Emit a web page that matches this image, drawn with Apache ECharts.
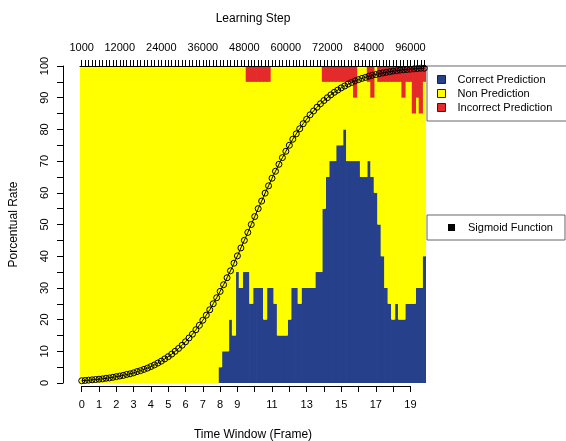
<!DOCTYPE html>
<html><head><meta charset="utf-8">
<script src="https://cdn.jsdelivr.net/npm/echarts@6/dist/echarts.min.js"></script>
<style>html,body{margin:0;padding:0;background:#fff}#c{width:566px;height:441px}</style>
</head><body><div id="c"></div>
<script>
// Learning steps (categories), one bar per 1000 steps
const steps = [];
for (let s = 1000; s <= 100000; s += 1000) steps.push(s);

const topTickLabels = [1000, 12000, 24000, 36000, 48000, 60000, 72000, 84000, 96000];
const frameTickLabels = [0, 1, 2, 3, 4, 5, 6, 7, 8, 9, 11, 13, 15, 17, 19];
const rateTickLabels = [0, 10, 20, 30, 40, 50, 60, 70, 80, 90, 100];

const correctPrediction = [
  0,0,0,0,0,0,0,0,0,0, 0,0,0,0,0,0,0,0,0,0,
  0,0,0,0,0,0,0,0,0,0, 0,0,0,0,0,0,0,0,0,0,
  5,10,10,20,15,35,30,35,35,25,
  30,30,30,20,30,30,25,15,15,15,
  20,30,30,25,30,30,30,30,35,35,
  55,65,70,70,75,75,80,70,70,70,
  70,65,65,70,65,60,50,40,30,25,
  20,25,20,20,25,25,25,30,30,40
];
const nonPrediction = [
  100,100,100,100,100,100,100,100,100,100, 100,100,100,100,100,100,100,100,100,100,
  100,100,100,100,100,100,100,100,100,100, 100,100,100,100,100,100,100,100,100,100,
  95,90,90,80,85,65,70,65,60,70,
  65,65,65,75,65,70,75,85,85,85,
  80,70,70,75,70,70,70,70,65,65,
  40,30,25,25,20,20,15,25,25,20,
  30,35,35,25,25,40,45,55,65,70,
  75,70,75,70,70,70,60,60,55,55
];
const incorrectPrediction = [
  0,0,0,0,0,0,0,0,0,0, 0,0,0,0,0,0,0,0,0,0,
  0,0,0,0,0,0,0,0,0,0, 0,0,0,0,0,0,0,0,0,0,
  0,0,0,0,0,0,0,0,5,5,
  5,5,5,5,5,0,0,0,0,0,
  0,0,0,0,0,0,0,0,0,0,
  5,5,5,5,5,5,5,5,5,10,
  0,0,0,5,10,0,5,5,5,5,
  5,5,5,10,5,5,15,10,15,5
];
const sigmoidFunction = [
  0.7,0.8,0.9,1.0,1.1,1.2,1.3,1.5,1.6,1.8,
  2.0,2.2,2.4,2.7,2.9,3.2,3.6,3.9,4.3,4.7,
  5.2,5.7,6.3,6.9,7.6,8.3,9.1,10.0,10.9,11.9,
  13.0,14.2,15.4,16.8,18.2,19.8,21.4,23.1,25.0,26.9,
  28.9,31.0,33.2,35.4,37.8,40.1,42.6,45.0,47.5,50.0,
  52.5,55.0,57.4,59.9,62.2,64.6,66.8,69.0,71.1,73.1,
  75.0,76.9,78.6,80.2,81.8,83.2,84.6,85.8,87.0,88.1,
  89.1,90.0,90.9,91.7,92.4,93.1,93.7,94.3,94.8,95.3,
  95.7,96.1,96.4,96.8,97.1,97.3,97.6,97.8,98.0,98.2,
  98.4,98.5,98.7,98.8,98.9,99.0,99.1,99.2,99.3,99.3
];

const FONT = '"Liberation Sans", Arial, Helvetica, sans-serif';
const BLUE = '#27408B', YELLOW = '#FFFF00', RED = '#E42A2A';

const chart = echarts.init(document.getElementById('c'), null, {renderer: 'canvas'});
const axisBlack = {color: '#000', width: 1};

const option = {
  animation: false,
  backgroundColor: '#fff',
  textStyle: {fontFamily: FONT},
  title: [
    {text: 'Learning Step', left: 253, top: 13, textAlign: 'center', padding: 0,
     textStyle: {fontSize: 12, fontWeight: 'normal', color: '#000', fontFamily: FONT}},
    {text: 'Time Window (Frame)', left: 253, top: 429, textAlign: 'center', padding: 0,
     textStyle: {fontSize: 12, fontWeight: 'normal', color: '#000', fontFamily: FONT}}
  ],
  grid: [
    {left: 80, top: 66, width: 346, height: 317},
    {left: 81.73, top: 66, width: 328.7, height: 317}
  ],
  legend: [
    {
      orient: 'vertical', left: 427, top: 66,
      padding: [7, 20, 7, 10], itemGap: 1,
      itemWidth: 8, itemHeight: 8,
      backgroundColor: '#fff', borderColor: '#666', borderWidth: 1,
      textStyle: {fontSize: 11, color: '#000', fontFamily: FONT, lineHeight: 13, padding: [0, 0, 0, 7]},
      data: [
        {name: 'Correct Prediction', icon: 'rect', itemStyle: {color: BLUE, borderColor: '#222', borderWidth: 1}},
        {name: 'Non Prediction', icon: 'rect', itemStyle: {color: YELLOW, borderColor: '#222', borderWidth: 1}},
        {name: 'Incorrect Prediction', icon: 'rect', itemStyle: {color: RED, borderColor: '#222', borderWidth: 1}}
      ]
    },
    {
      orient: 'vertical', left: 427, top: 215,
      padding: [6, 12, 6, 21],
      itemWidth: 7, itemHeight: 7,
      backgroundColor: '#fff', borderColor: '#666', borderWidth: 1,
      textStyle: {fontSize: 11, color: '#000', fontFamily: FONT, lineHeight: 13, padding: [0, 0, 0, 8]},
      data: [
        {name: 'Sigmoid Function', icon: 'rect', itemStyle: {color: '#000', borderWidth: 0}}
      ]
    }
  ],
  xAxis: [
    {
      type: 'category', gridIndex: 0, position: 'top', data: steps, boundaryGap: true, z: 10,
      axisLine: {show: true, onZero: false, lineStyle: axisBlack},
      axisTick: {show: true, interval: 0, alignWithLabel: true, length: 6, lineStyle: axisBlack},
      axisLabel: {interval: (i, v) => topTickLabels.indexOf(Number(v)) >= 0, margin: 13,
                  fontSize: 11, color: '#000', fontFamily: FONT},
      splitLine: {show: false}
    },
    {
      type: 'value', gridIndex: 1, position: 'bottom', min: 0, max: 19, interval: 1, offset: 3,
      axisLine: {show: true, onZero: false, lineStyle: axisBlack},
      axisTick: {show: true, length: 6, lineStyle: axisBlack},
      axisLabel: {formatter: v => frameTickLabels.indexOf(v) >= 0 ? String(v) : '', margin: 13,
                  fontSize: 11, color: '#000', fontFamily: FONT},
      splitLine: {show: false}
    }
  ],
  yAxis: [
    {
      type: 'value', gridIndex: 0, min: 0, max: 100, interval: 5, offset: 17,
      name: 'Porcentual Rate', nameLocation: 'middle', nameGap: 43,
      nameTextStyle: {fontSize: 12, color: '#000', fontFamily: FONT},
      axisLine: {show: true, onZero: false, lineStyle: axisBlack},
      axisTick: {show: true, length: 6, lineStyle: axisBlack},
      axisLabel: {rotate: 90, margin: 13, fontSize: 11, color: '#000', fontFamily: FONT,
                  formatter: v => rateTickLabels.indexOf(v) >= 0 ? String(v) : ''},
      splitLine: {show: false}
    },
    {type: 'value', gridIndex: 1, min: 0, max: 1, show: false}
  ],
  series: [
    {name: 'Correct Prediction', type: 'bar', stack: 'rate', data: correctPrediction,
     barWidth: 4.2, itemStyle: {color: BLUE}, silent: true},
    {name: 'Non Prediction', type: 'bar', stack: 'rate', data: nonPrediction,
     barWidth: 4.2, itemStyle: {color: YELLOW}, silent: true},
    {name: 'Incorrect Prediction', type: 'bar', stack: 'rate', data: incorrectPrediction,
     barWidth: 4.2, itemStyle: {color: RED}, silent: true},
    {name: 'Sigmoid Function', type: 'line', data: sigmoidFunction, z: 5,
     symbol: 'circle', symbolSize: 6, showAllSymbol: true, showSymbol: true,
     lineStyle: {color: '#000', width: 1},
     itemStyle: {color: 'rgba(0,0,0,0)', borderColor: '#000', borderWidth: 1}, silent: true}
  ]
};
chart.setOption(option);
</script>
</body></html>
